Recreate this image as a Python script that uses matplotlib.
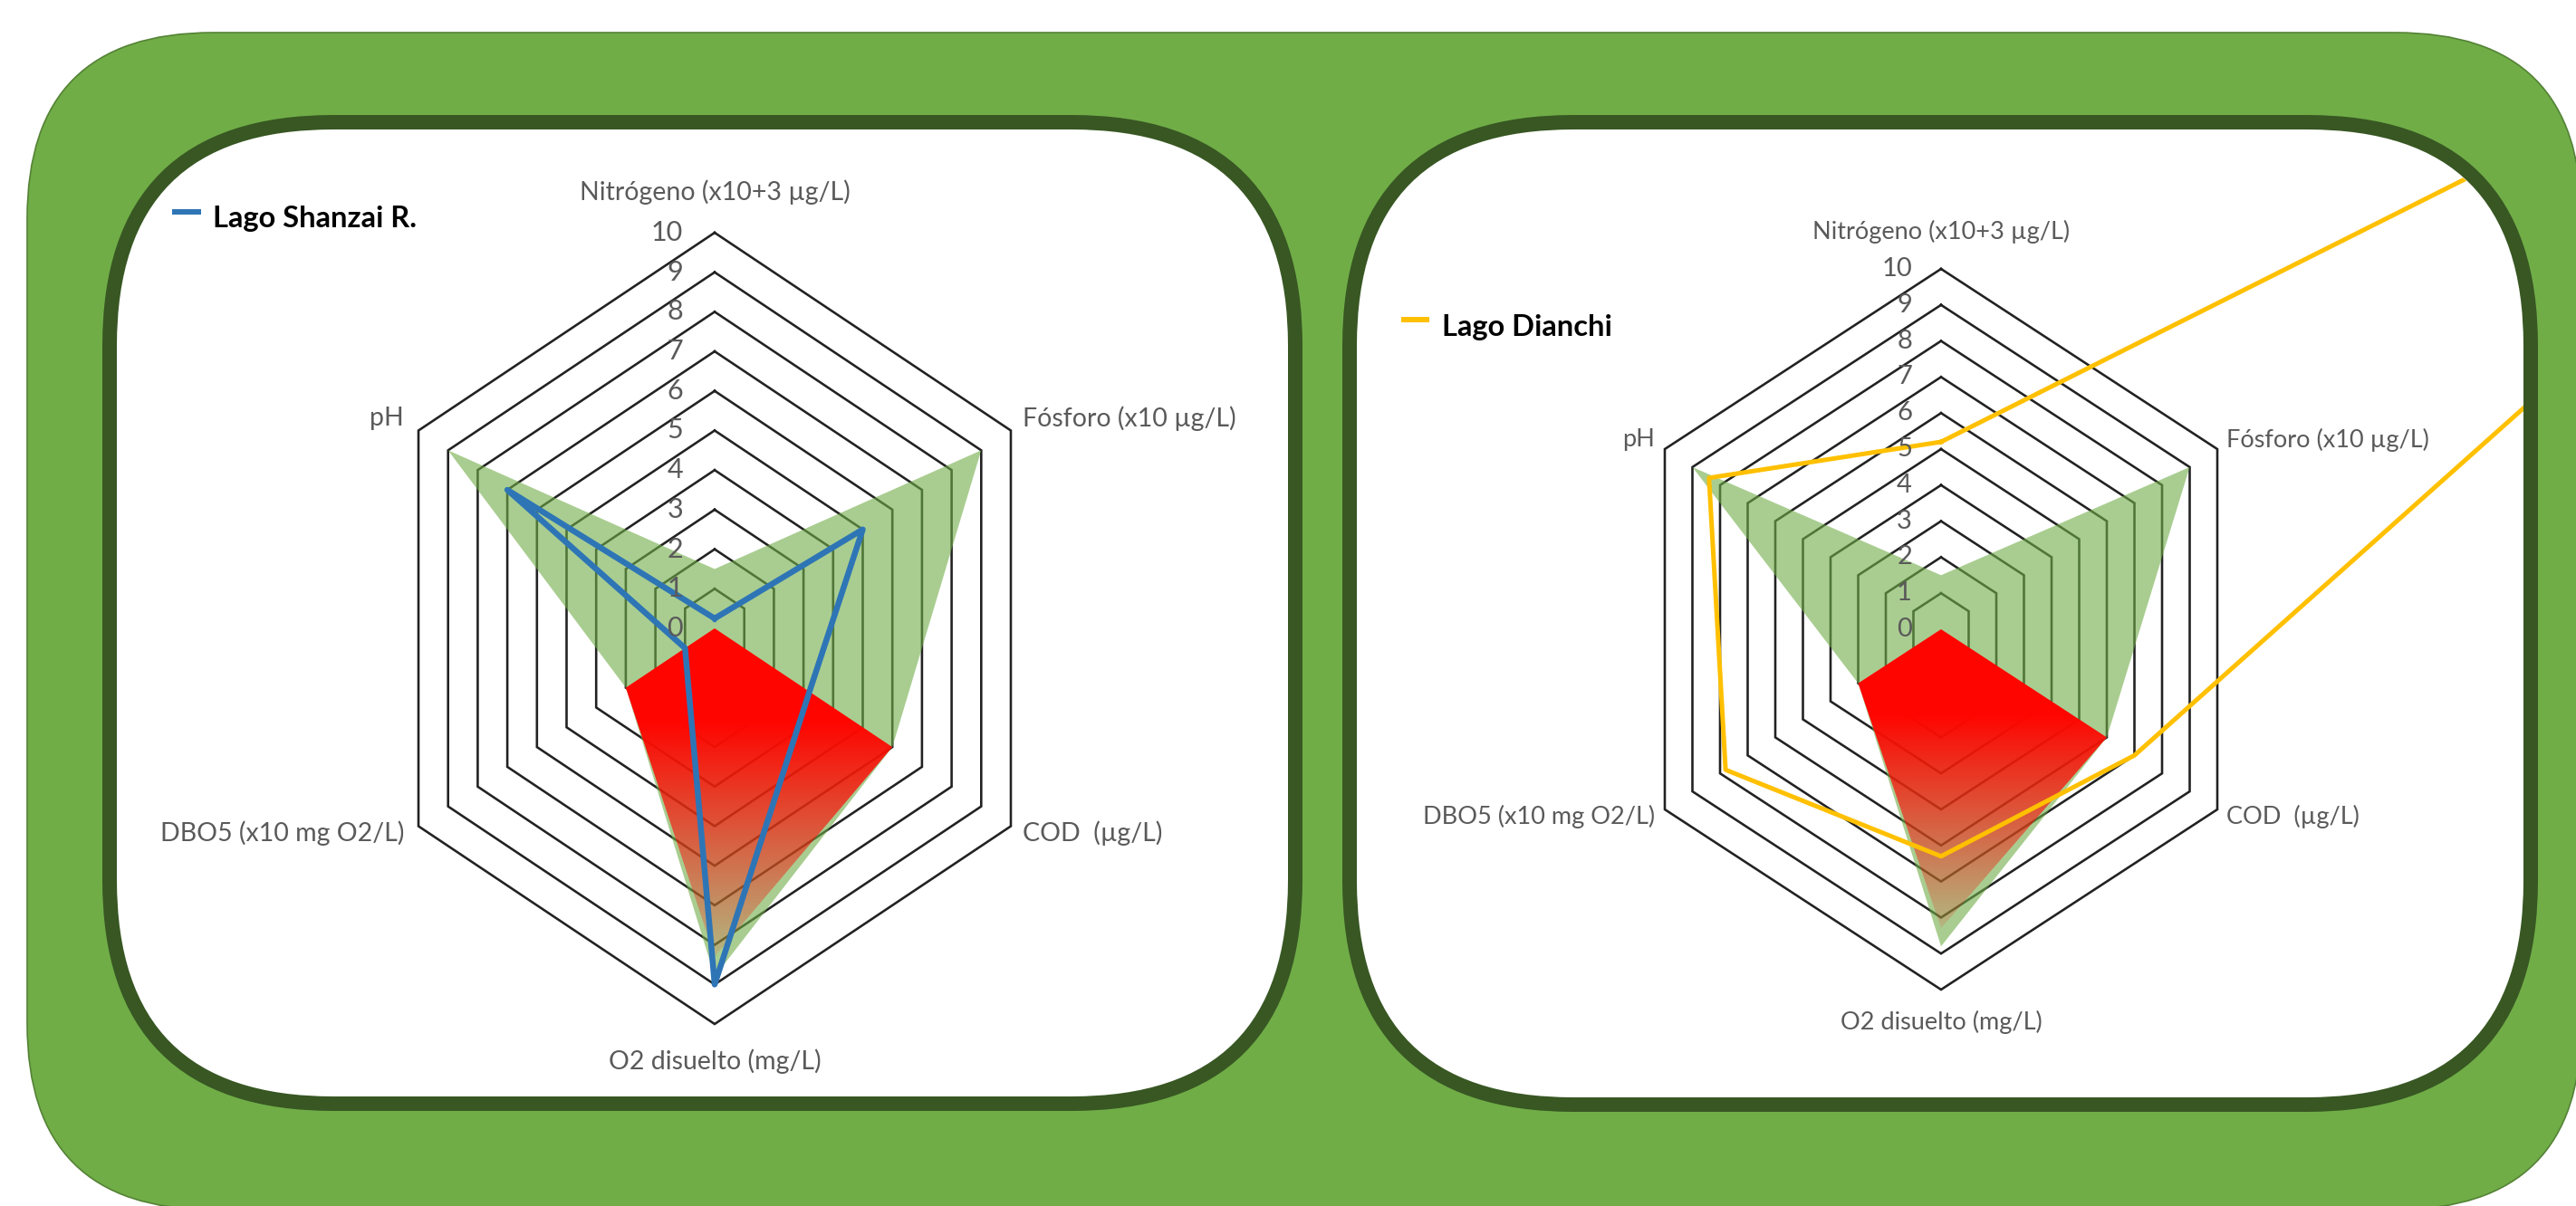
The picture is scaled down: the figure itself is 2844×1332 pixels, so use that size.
import numpy as np
import matplotlib
matplotlib.use("Agg")
import matplotlib.pyplot as plt
from matplotlib.patches import FancyBboxPatch, Polygon

W, H = 2844, 1332
DPI = 100

# ---------------- data ----------------
categories = ["Nitrógeno (x10+3 µg/L)", "Fósforo (x10 µg/L)", "COD  (µg/L)",
              "O2 disuelto (mg/L)", "DBO5 (x10 mg O2/L)", "pH"]
ring_levels = [0, 1, 2, 3, 4, 5, 6, 7, 8, 9, 10]
tick_labels = ["0", "1", "2", "3", "4", "5", "6", "7", "8", "9", "10"]

shanzai_values = [0.25, 5.0, 3.2, 9.0, 1.0, 7.0]
dianchi_values = [5.2, 45.0, 7.0, 6.3, 7.8, 8.4]
green_zone = [1.5, 9.0, 6.0, 8.8, 3.0, 9.0]
red_zone = [0.0, 0.0, 6.0, 8.3, 3.0, 0.0]

series_names = ["Lago Shanzai R.", "Lago Dianchi"]
series_colors = ["#2E75B6", "#FFC000"]

FONT = "Lato"
LABEL_COLOR = "#5a5a5a"


def radar_xy(values):
    n = len(values)
    ang = np.deg2rad(np.arange(n) * 360.0 / n)
    v = np.asarray(values, float)
    return v * np.sin(ang), v * np.cos(ang)


fig = plt.figure(figsize=(W / DPI, H / DPI), dpi=DPI)
bg = fig.add_axes([0, 0, 1, 1])
bg.set_xlim(0, W)
bg.set_ylim(H, 0)
bg.axis("off")

# outer green rounded rectangle
outer = FancyBboxPatch((30, 36), 2820, 1300, boxstyle="round,pad=0,rounding_size=205",
                       facecolor="#70AD47", edgecolor="#548235", linewidth=1.2, zorder=0)
bg.add_patch(outer)

# white panels with dark green borders
px = 72.0 / DPI
panel_boxes = [(121, 135, 1430, 1219), (1490, 135, 2794, 1220)]
for (x0, y0, x1, y1) in panel_boxes:
    p = FancyBboxPatch((x0, y0), x1 - x0, y1 - y0, boxstyle="round,pad=0,rounding_size=247",
                       facecolor="white", edgecolor="#385723", linewidth=16 * px, zorder=1)
    bg.add_patch(p)
clips = []
for (x0, y0, x1, y1) in panel_boxes:
    c = FancyBboxPatch((x0 + 8, y0 + 8), x1 - x0 - 16, y1 - y0 - 16,
                       boxstyle="round,pad=0,rounding_size=239",
                       facecolor="none", edgecolor="none", transform=bg.transData)
    clips.append(c)


def draw_radar(clip, cx, cy, kx, ky, values, color, lw_px, tick_fs, cat_fs, tick_dx, offs):
    ax = fig.add_axes([0, 0, 1, 1])
    ax.patch.set_visible(False)
    ax.axis("off")
    xlim = ((0 - cx) / kx, (W - cx) / kx)
    ylim = ((cy - H) / ky, cy / ky)

    # grid rings
    for lvl in ring_levels[1:]:
        x, y = radar_xy([lvl] * len(categories))
        ln, = ax.plot(np.append(x, x[0]), np.append(y, y[0]), color="#222222",
                      lw=2.6 * px, zorder=1, solid_joinstyle="miter")
        ln.set_clip_path(clip)

    # green zone
    gx, gy = radar_xy(green_zone)
    g = ax.fill(gx, gy, color="#70AD47", alpha=0.6, lw=0, zorder=2)[0]
    g.set_clip_path(clip)

    # red zone with vertical fade
    rx, ry = radar_xy(red_zone)
    poly = Polygon(np.column_stack([rx, ry]), closed=True, facecolor="none",
                   edgecolor="none", transform=ax.transData)
    ax.add_patch(poly)
    yy = np.linspace(-11, 1, 400)
    fade_start, fade_end = -2.4, -9.0
    alpha = np.clip((yy - fade_end) / (fade_start - fade_end), 0.03, 1.0)
    img = np.zeros((len(yy), 2, 4))
    img[..., 0] = 1.0
    img[..., 1] = 0.02
    img[..., 3] = alpha[:, None]
    im = ax.imshow(img, extent=[-10, 10, -11, 1], origin="lower", aspect="auto",
                   interpolation="bilinear", zorder=3)
    im.set_clip_path(poly)

    # data series
    sx, sy = radar_xy(values)
    ln, = ax.plot(np.append(sx, sx[0]), np.append(sy, sy[0]), color=color,
                  lw=lw_px * px, solid_joinstyle="round", zorder=5)
    ln.set_clip_path(clip)

    # tick labels along the first axis
    for lvl, lab in zip(ring_levels, tick_labels):
        ax.annotate(lab, xy=(0, lvl), xytext=(-tick_dx, 0), textcoords="offset pixels",
                    ha="right", va="center", color=LABEL_COLOR, fontsize=tick_fs,
                    family=FONT, zorder=6)

    # category labels
    vx, vy = radar_xy([10] * len(categories))
    aligns = ["center", "left", "left", "center", "right", "right"]
    for i, cat in enumerate(categories):
        ax.annotate(cat, xy=(vx[i], vy[i]), xytext=offs[i], textcoords="offset pixels",
                    ha=aligns[i], va="center", color=LABEL_COLOR, fontsize=cat_fs,
                    family=FONT, zorder=6)

    ax.set_xlim(*xlim)
    ax.set_ylim(*ylim)
    return ax


cos30 = np.cos(np.deg2rad(30))
draw_radar(clips[0], 789, 694, 327 / (10 * cos30), 43.7, shanzai_values, series_colors[0], 6.5,
           22, 20.5, 35,
           [(0, 45), (13, 13), (13, -8), (0, -41), (-16, -8), (-16, 13)])
draw_radar(clips[1], 2143, 695, 305 / (10 * cos30), 39.8, dianchi_values, series_colors[1], 5.0,
           21, 19.5, 32,
           [(0, 41), (10, 10), (10, -8), (0, -36), (-11, -8), (-11, 10)])

# legends
for (x0, x1, y, tx, ty), name, col in zip([(190, 222, 234, 235, 242), (1547, 1578, 353, 1592, 361)],
                                          series_names, series_colors):
    bg.plot([x0, x1], [y, y], color=col, lw=6 * px, solid_capstyle="butt", zorder=7)
    bg.text(tx, ty, name, fontsize=23.5, fontweight="bold", family=FONT, color="black",
            ha="left", va="center", zorder=7)

fig.savefig("out.png", dpi=DPI)
